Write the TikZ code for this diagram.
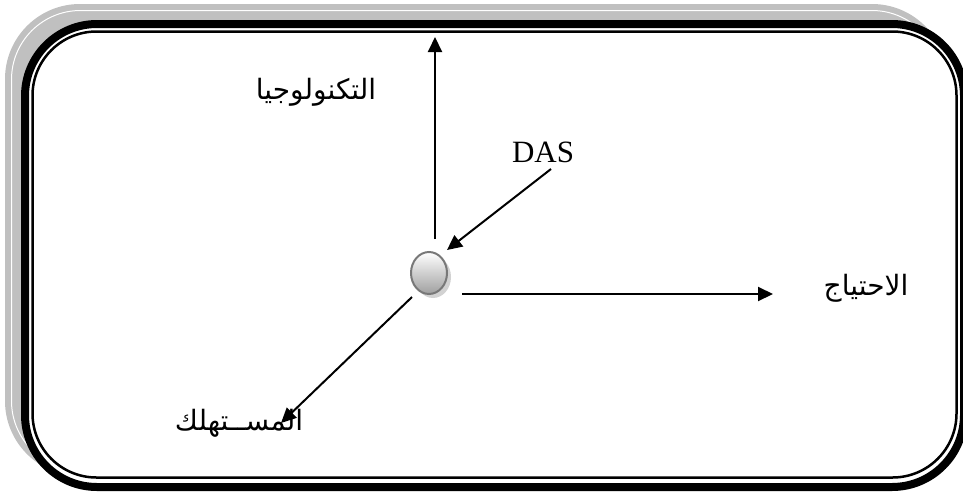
\documentclass[tikz,border=0pt]{standalone}
\usepackage{fontspec}
\setmainfont{Liberation Serif}
\newfontfamily\arabicfont[Script=Arabic]{DejaVu Sans}
\TeXXeTstate=1
\usetikzlibrary{arrows.meta,shapes.geometric}
\definecolor{shadowgray}{RGB}{192,192,192}
\definecolor{hubline}{RGB}{120,120,120}
\begin{document}
\begin{tikzpicture}[x=1pt, y=-1pt,
    arr/.style={line width=2pt, -{Triangle[length=15pt,width=14pt]}},
    lbl/.style={inner sep=0pt, font=\arabicfont\fontsize{28}{32}\selectfont}]
        \useasboundingbox (0,0) rectangle (963,493);
        % frame with its shadow
        \fill[shadowgray, rounded corners=75pt] (5,4) rectangle (947,476);
        \draw[white, line width=1pt, rounded corners=69pt] (11.5,10.5) rectangle (941,470);
        \fill[white, rounded corners=72pt] (25,24) rectangle (964,487);
        \draw[line width=8pt, rounded corners=72pt] (25,24) rectangle (964,487);
        \draw[line width=2.5pt, rounded corners=64pt] (32.5,31.5) rectangle (956.5,477.5);
        % hub
        \fill[gray!35] (433,277) ellipse (18 and 21);
        \node[ellipse, draw=hubline, line width=2pt, top color=white, bottom color=gray!75,
              minimum width=36pt, minimum height=42pt, inner sep=0pt] (hub) at (429,273) {};
        % labels
        \node[lbl] (tech) at (316,92) {\beginR التكنولوجيا\endR};
        \node[inner sep=0pt, font=\fontsize{31}{36}\selectfont] (das) at (543,152) {DAS};
        \node[lbl] (need) at (866,288) {\beginR الاحتياج\endR};
        \node[lbl] (cons) at (239,423) {\beginR المســتهلك\endR};
        % arrows
        \coordinate (techS) at (435,239);  \coordinate (techE) at (435,37);
        \coordinate (dasS) at (551,169);   \coordinate (dasE) at (447,250);
        \coordinate (needS) at (462,294);  \coordinate (needE) at (773,294);
        \coordinate (consS) at (412,297);  \coordinate (consE) at (281,423);
        \foreach \s/\e in {techS/techE, dasS/dasE, needS/needE, consS/consE} {
            \draw[arr] (\s) -- (\e);
        }
    \end{tikzpicture}
\end{document}
